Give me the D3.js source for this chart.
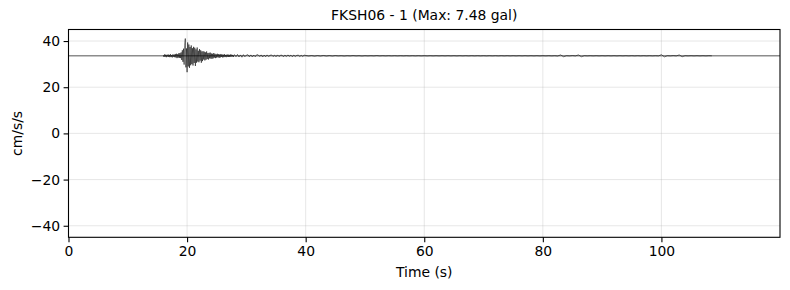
<!DOCTYPE html>
<html>
<head>
<meta charset="utf-8">
<script src="https://cdn.jsdelivr.net/npm/d3@7"></script>
<style>
  body { margin: 0; background: #fff; }
  svg { display: block; font-family: "DejaVu Sans", sans-serif; }
</style>
</head>
<body>
<svg id="chart" width="790" height="290"></svg>
<script>
// ---- data ----
const title = "FKSH06 - 1 (Max: 7.48 gal)";
const xLabel = "Time (s)";
const yLabel = "cm/s/s";
const xTicks = [0, 20, 40, 60, 80, 100];
const yTicks = [-40, -20, 0, 20, 40];
const xDomain = [0, 120];
const yDomain = [-45, 45];
const offset = 33.6;            // baseline of the trace (gal)

// segment A: 16.0 s – 27.9 s, sampled every 0.1 s (deviation from baseline, gal)
const segAStart = 16.0, segADt = 0.1;
const segA = [
  0.3,-0.5,0.6,-0.4,0.5,-0.6,0.4,-0.3,0.6,-0.5,
  0.4,-0.6,0.7,-0.5,0.3,-0.7,0.6,-0.4,0.5,-0.6,
  0.8,-0.7,0.9,-1.0,0.7,-0.8,1.1,-0.9,1.2,-1.0,
  1.5,-1.8,2.4,-2.6,3.1,-3.8,4.6,7.48,-5.0,3.2,
  -7.1,5.8,-4.6,4.9,-5.2,3.8,-4.1,4.5,-3.6,3.3,
  -4.2,3.9,-3.1,3.5,-4.4,2.8,-3.0,3.6,-2.5,2.2,
  -2.8,2.9,-2.1,2.4,-3.0,1.9,-2.3,2.0,-1.6,1.8,
  -2.0,1.5,-1.7,1.9,-1.4,1.2,-1.6,1.3,-1.1,1.4,
  -1.2,1.0,-1.3,0.9,-1.1,1.2,-0.8,0.9,-1.0,0.7,
  -0.8,0.9,-0.6,0.7,-0.9,0.6,-0.7,0.8,-0.5,0.6,
  -0.7,0.5,-0.6,0.7,-0.5,0.4,-0.6,0.5,-0.4,0.6,
  -0.5,0.4,-0.5,0.6,-0.4,0.5,-0.3,0.4,-0.5,0.3
];
// segment B: 28.0 s – 39.75 s, every 0.25 s
const segBStart = 28.0, segBDt = 0.25;
const segB = [
  0.5,-0.4,0.6,-0.5,0.4,-0.6,0.5,-0.4,
  0.3,0.5,-0.4,0.4,-0.5,0.3,-0.4,0.5,
  0.4,-0.3,0.4,-0.5,0.3,-0.4,0.4,-0.3,
  0.2,0.4,-0.3,0.3,-0.4,0.4,-0.3,0.2,
  0.3,-0.4,0.3,-0.3,0.4,-0.2,0.3,-0.4,
  0.3,-0.3,0.2,0.3,-0.3,0.2,-0.3,0.3
];
// segment C: 40.0 s – 108.5 s, every 0.5 s
const segCStart = 40.0, segCDt = 0.5;
const segC = [
  0.15,-0.1,0.1,-0.15,0.1,-0.1,0.15,-0.1,0.1,-0.1,
  0.1,-0.05,0.05,-0.1,0.05,-0.05,0.1,-0.05,0.05,-0.1,
  0.05,-0.05,0.05,-0.05,0.1,-0.05,0.05,-0.05,0.05,-0.05,
  0.05,-0.05,0.05,-0.05,0.05,-0.05,0.05,-0.05,0.05,-0.05,
  0.05,-0.05,0.05,-0.05,0.05,-0.05,0.05,-0.05,0.05,-0.05,
  0.05,-0.05,0.05,-0.05,0.05,-0.05,0.05,-0.05,0.05,-0.05,
  0.05,-0.05,0.05,-0.05,0.05,-0.05,0.05,-0.05,0.05,-0.05,
  0.05,-0.05,0.05,-0.05,0.05,-0.05,0.05,-0.05,0.05,-0.05,
  0.05,-0.05,0.05,-0.05,0.05,-0.1,0.4,-0.4,0.05,-0.05,
  0.1,-0.05,0.4,-0.4,0.05,-0.05,0.05,-0.05,0.05,-0.05,
  0.05,-0.05,0.05,-0.05,0.05,-0.05,0.05,-0.05,0.05,-0.05,
  0.05,-0.05,0.05,-0.05,0.05,-0.05,0.05,-0.05,0.05,-0.05,
  0.5,-0.45,0.05,-0.05,0.1,-0.05,0.4,-0.4,0.05,-0.05,
  0.05,-0.05,0.05,-0.05,0.05,-0.05,0.05,0
];

// ---- build samples ----
function seg(start, dt, vals) {
  return vals.map((v, i) => ({ t: start + i * dt, a: offset + v }));
}
const samples = [].concat(
  seg(segAStart, segADt, segA),
  seg(segBStart, segBDt, segB),
  seg(segCStart, segCDt, segC)
);

// ---- layout ----
const svg = d3.select("#chart");
const L = 68.5, R = 780, T = 29.5, B = 237.3;
const x = d3.scaleLinear().domain(xDomain).range([L, R]);
const y = d3.scaleLinear().domain(yDomain).range([B, T]);
const fs = 13.9;

// grid
const grid = svg.append("g");
grid.selectAll(".gx").data(xTicks).join("line")
  .attr("x1", d => x(d)).attr("x2", d => x(d))
  .attr("y1", T).attr("y2", B)
  .attr("stroke", "#b0b0b0").attr("stroke-opacity", 0.3).attr("stroke-width", 1);
grid.selectAll(".gy").data(yTicks).join("line")
  .attr("x1", L).attr("x2", R)
  .attr("y1", d => y(d)).attr("y2", d => y(d))
  .attr("stroke", "#b0b0b0").attr("stroke-opacity", 0.3).attr("stroke-width", 1);

// clip
svg.append("clipPath").attr("id", "clip").append("rect")
  .attr("x", L).attr("y", T).attr("width", R - L).attr("height", B - T);

const plot = svg.append("g").attr("clip-path", "url(#clip)");

// baseline reference line
plot.append("line")
  .attr("x1", L).attr("x2", R)
  .attr("y1", y(offset)).attr("y2", y(offset))
  .attr("stroke", "#8c8c8c").attr("stroke-width", 1.5);

// trace
const line = d3.line().x(d => x(d.t)).y(d => y(d.a));
plot.append("path").datum(samples)
  .attr("d", line)
  .attr("fill", "none").attr("stroke", "#000").attr("stroke-width", 0.55);

// axes
const xAxis = d3.axisBottom(x).tickValues(xTicks).tickSize(4.9).tickPadding(3.5).tickSizeOuter(0);
const yAxis = d3.axisLeft(y).tickValues(yTicks).tickSize(4.9).tickPadding(3.5).tickSizeOuter(0)
  .tickFormat(d => d < 0 ? "\u2212" + Math.abs(d) : String(d));

const gx = svg.append("g").attr("transform", `translate(0,${B})`).call(xAxis);
const gy = svg.append("g").attr("transform", `translate(${L},0)`).call(yAxis);
[gx, gy].forEach(g => {
  g.select(".domain").remove();
  g.selectAll("text").attr("font-size", fs).attr("font-family", "DejaVu Sans").attr("fill", "#000");
  g.selectAll("line").attr("stroke", "#000").attr("stroke-width", 1.1);
});

// frame
svg.append("rect").attr("x", L).attr("y", T).attr("width", R - L).attr("height", B - T)
  .attr("fill", "none").attr("stroke", "#000").attr("stroke-width", 1.1);

// labels
svg.append("text").attr("x", (L + R) / 2).attr("y", 20)
  .attr("text-anchor", "middle").attr("font-size", fs).text(title);
svg.append("text").attr("x", (L + R) / 2).attr("y", 277)
  .attr("text-anchor", "middle").attr("font-size", fs).text(xLabel);
svg.append("text").attr("transform", `translate(22,${(T + B) / 2}) rotate(-90)`)
  .attr("text-anchor", "middle").attr("font-size", fs).text(yLabel);
</script>
</body>
</html>
